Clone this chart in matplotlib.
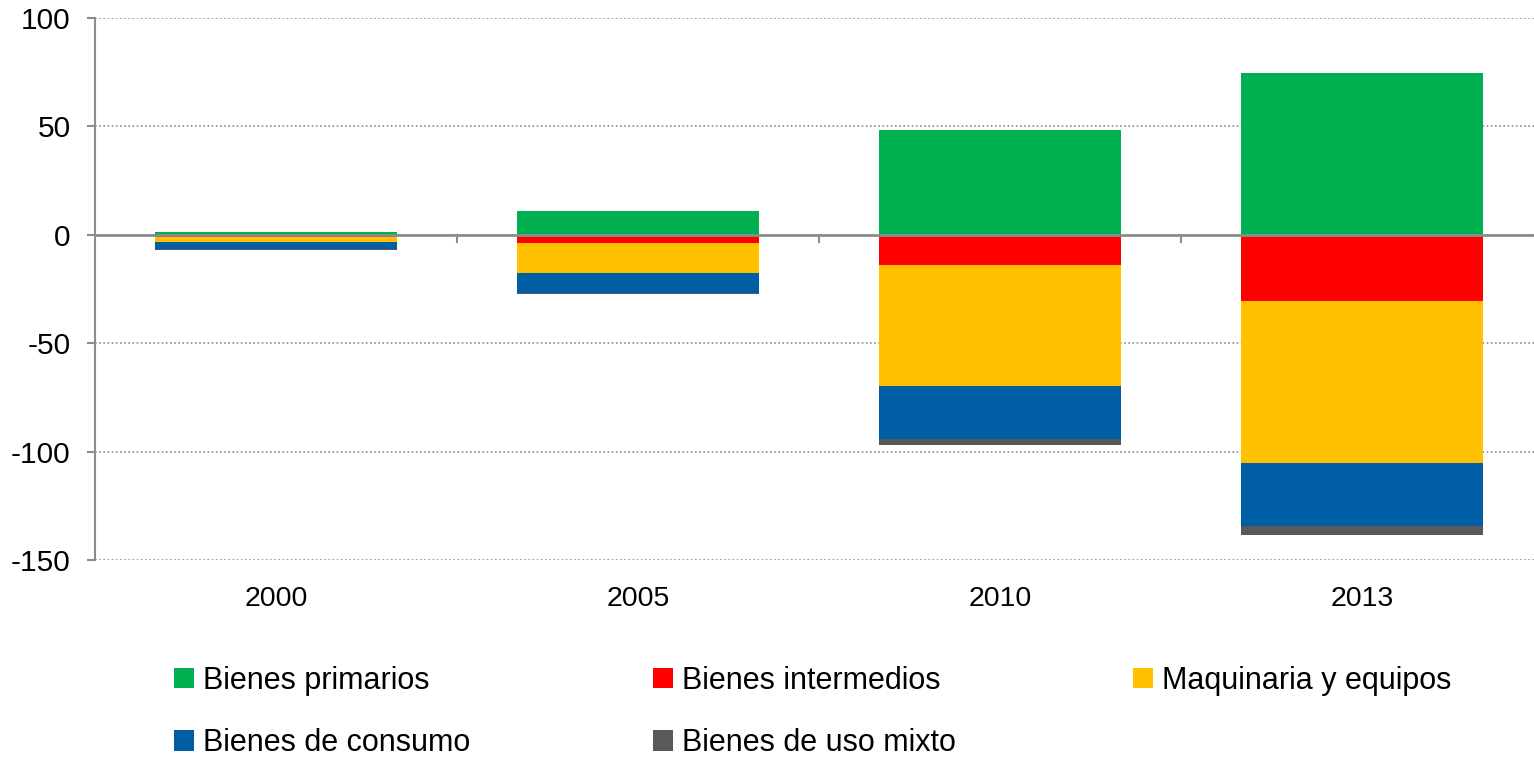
import matplotlib.pyplot as plt
import numpy as np
from matplotlib.patches import Patch

# Values
years = ['2000', '2005', '2010', '2013']
primarios = [1.5, 11.0, 48.4, 74.7]
intermedios = [-1.0, -4.0, -13.8, -30.4]
maquinaria = [-2.4, -13.7, -55.8, -74.9]
consumo = [-3.2, -9.1, -24.6, -29.1]
uso_mixto = [-0.3, -0.3, -2.6, -4.0]

labels = ['Bienes primarios', 'Bienes intermedios', 'Maquinaria y equipos',
          'Bienes de consumo', 'Bienes de uso mixto']
colors = ['#00B050', '#FF0000', '#FFC000', '#005EA4', '#595959']

plt.rcParams['font.family'] = ['Liberation Sans', 'DejaVu Sans']
plt.rcParams['axes.unicode_minus'] = False

fig = plt.figure(figsize=(15.34, 7.62), dpi=100)
ax = fig.add_axes([95 / 1534, 1 - 560 / 762, (1543 - 95) / 1534, (560 - 18) / 762])

x = np.arange(len(years))
width = 242 / 362

# positive part
ax.bar(x, primarios, width, color=colors[0], zorder=3)

# negative parts stacked downward
bottom = np.zeros(len(years))
for vals, col in zip([intermedios, maquinaria, consumo, uso_mixto], colors[1:]):
    ax.bar(x, vals, width, bottom=bottom, color=col, zorder=3)
    bottom = bottom + np.array(vals)

ax.set_xlim(-0.5, len(years) - 0.5)
ax.set_ylim(-150, 100)
ax.set_yticks([-150, -100, -50, 0, 50, 100])
ax.set_xticks(x)
ax.set_xticklabels(years)

ax.yaxis.grid(True, linestyle=(0, (1, 1.5)), color='#8c8c8c', linewidth=1.2, zorder=0)
ax.xaxis.grid(False)

for s in ['top', 'right', 'bottom']:
    ax.spines[s].set_visible(False)
ax.spines['left'].set_color('#8c8c8c')
ax.spines['left'].set_linewidth(1.5)

# zero line with category separators
ax.axhline(0, color='#8c8c8c', linewidth=2, zorder=4)
for b in [0.5, 1.5, 2.5]:
    ax.plot([b, b], [0, -3.3], color='#8c8c8c', linewidth=1.5, zorder=4, clip_on=False)

ax.tick_params(axis='y', direction='out', length=6, width=1.5, color='#8c8c8c',
               labelsize=21.5, pad=11.5)
ax.tick_params(axis='x', length=0, labelsize=20.5, pad=19)

# legend: one legend per column, placed like the reference
columns = [([0, 3], 174), ([1, 4], 653), ([2], 1133)]
for idx, xpos in columns:
    handles = [Patch(facecolor=colors[i], label=labels[i]) for i in idx]
    fig.legend(handles=handles, loc='upper left', bbox_to_anchor=(xpos / 1534, 1 - 666 / 762),
               ncol=1, frameon=False, fontsize=22, handlelength=0.65, handleheight=0.65,
               handletextpad=0.29, labelspacing=1.05, borderpad=0, borderaxespad=0)

fig.savefig('out.png', dpi=100)
